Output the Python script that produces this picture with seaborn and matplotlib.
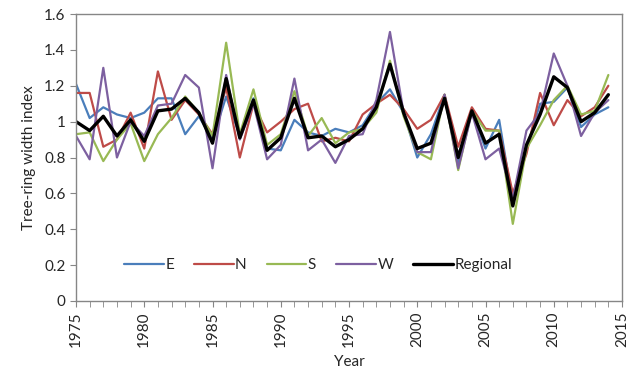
import numpy as np
import pandas as pd
import matplotlib
matplotlib.use("Agg")
import matplotlib.pyplot as plt
import seaborn as sns
from matplotlib.ticker import MultipleLocator

# Tree-ring width index per region, 1975-2014
years = list(range(1975, 2015))

east = [1.21, 1.02, 1.08, 1.04, 1.02, 1.05, 1.13, 1.13, 0.93, 1.03,
        0.90, 1.14, 0.92, 1.13, 0.85, 0.84, 1.01, 0.94, 0.92, 0.96,
        0.94, 0.98, 1.10, 1.18, 1.05, 0.80, 0.93, 1.15, 0.77, 1.06,
        0.85, 1.01, 0.55, 0.85, 1.10, 1.11, 1.19, 0.97, 1.04, 1.08]
north = [1.16, 1.16, 0.86, 0.90, 1.05, 0.85, 1.28, 1.01, 1.12, 1.04,
         0.93, 1.19, 0.80, 1.10, 0.94, 1.00, 1.07, 1.10, 0.89, 0.91,
         0.89, 1.04, 1.10, 1.15, 1.07, 0.96, 1.01, 1.15, 0.86, 1.08,
         0.96, 0.95, 0.60, 0.82, 1.16, 0.98, 1.12, 1.03, 1.08, 1.20]
south = [0.93, 0.94, 0.78, 0.90, 0.99, 0.78, 0.93, 1.02, 1.14, 1.05,
         0.92, 1.44, 0.93, 1.18, 0.87, 0.93, 1.17, 0.92, 1.02, 0.88,
         0.94, 0.96, 1.05, 1.34, 1.03, 0.83, 0.79, 1.15, 0.73, 1.06,
         0.95, 0.95, 0.43, 0.85, 0.98, 1.12, 1.20, 1.04, 1.06, 1.26]
west = [0.92, 0.79, 1.30, 0.80, 1.00, 0.92, 1.09, 1.10, 1.26, 1.19,
        0.74, 1.26, 0.90, 1.10, 0.79, 0.87, 1.24, 0.84, 0.90, 0.77,
        0.92, 0.93, 1.12, 1.50, 1.05, 0.83, 0.83, 1.15, 0.74, 1.05,
        0.79, 0.85, 0.57, 0.95, 1.05, 1.38, 1.20, 0.92, 1.05, 1.12]
regional = [1.00, 0.95, 1.03, 0.92, 1.01, 0.89, 1.06, 1.07, 1.13, 1.05,
            0.88, 1.24, 0.91, 1.12, 0.84, 0.91, 1.13, 0.91, 0.92, 0.86,
            0.90, 0.96, 1.08, 1.32, 1.05, 0.85, 0.88, 1.13, 0.80, 1.06,
            0.88, 0.93, 0.53, 0.87, 1.04, 1.25, 1.19, 1.00, 1.05, 1.15]

series_names = ["E", "N", "S", "W", "Regional"]
series_vals = [east, north, south, west, regional]
colors = ["#4A7EBB", "#BE4B48", "#98B954", "#7D60A0", "#000000"]
widths = [1.6, 1.6, 1.6, 1.6, 2.4]

df = pd.DataFrame({"Year": years})
for name, vals in zip(series_names, series_vals):
    df[name] = vals
long_df = df.melt(id_vars="Year", var_name="Series", value_name="Index")

sns.set_style("white")
plt.rcParams["font.family"] = ["Lato", "DejaVu Sans"]

fig = plt.figure(figsize=(6.36, 3.71), dpi=100)
ax = fig.add_axes([0.1195, 0.1887, 0.8585, 0.7735])

for name, col, lw in zip(series_names, colors, widths):
    sns.lineplot(data=long_df[long_df["Series"] == name], x="Year", y="Index",
                 color=col, linewidth=lw, label=name, ax=ax)

ax.set_xlim(1975, 2015)
ax.set_ylim(0, 1.6)
ax.xaxis.set_major_locator(MultipleLocator(5))
ax.xaxis.set_minor_locator(MultipleLocator(1))
ax.yaxis.set_major_locator(MultipleLocator(0.2))
ax.set_yticklabels([("%.1f" % t).rstrip("0").rstrip(".") if t else "0"
                    for t in ax.get_yticks()])
ax.tick_params(axis="x", which="both", direction="out", length=4,
               color="#868686", bottom=True, labelrotation=90, labelsize=11)
ax.tick_params(axis="y", which="major", direction="out", length=4,
               color="#868686", left=True, labelsize=11)
for sp in ax.spines.values():
    sp.set_color("#868686")
    sp.set_linewidth(1.0)

ax.set_xlabel("Year", fontsize=11, labelpad=6)
ax.set_ylabel("Tree-ring width index", fontsize=11, labelpad=6)

ax.legend(loc="center", bbox_to_anchor=(0.443, 0.125), ncol=5, frameon=False,
          fontsize=11, handlelength=2.6, columnspacing=1.3, handletextpad=0.1)

fig.savefig("out.png", dpi=100)
